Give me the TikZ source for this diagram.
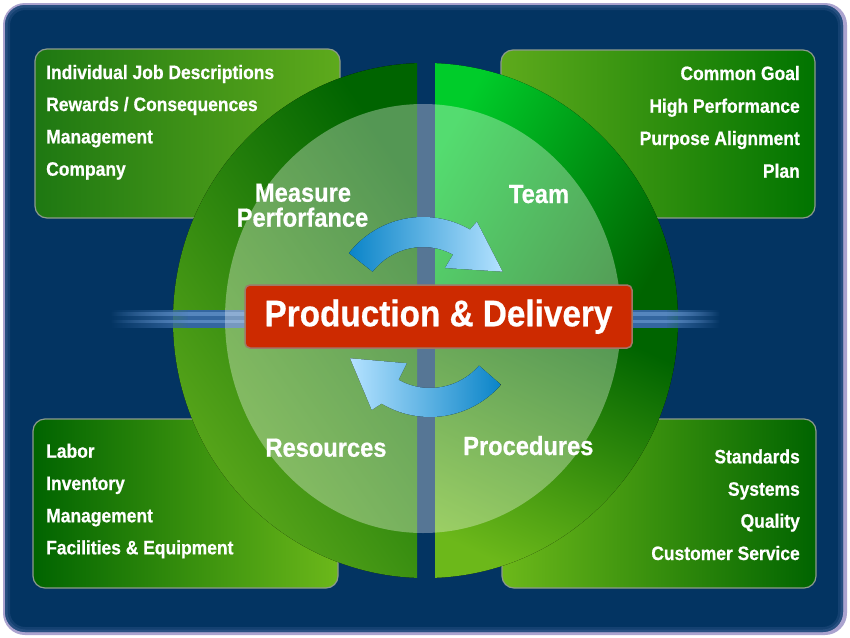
\documentclass[tikz,border=0pt]{standalone}
\usepackage{fontspec}
\setmainfont{Liberation Sans}
\newfontfamily\narrowfont{Liberation Sans}[FakeStretch=0.9, BoldFeatures={FakeBold=0.6}]
\usetikzlibrary{fadings}
\definecolor{navy}{HTML}{033462}
\definecolor{rim}{HTML}{ABA3CF}
\definecolor{glow}{HTML}{4A6A9E}
\definecolor{gdark}{HTML}{006400}
\definecolor{gmid}{HTML}{1E7812}
\definecolor{glight}{HTML}{5EAA1C}
\definecolor{gyellow}{HTML}{6CB81A}
\definecolor{gbright}{HTML}{00CC2A}
\definecolor{boxline}{HTML}{8C9A8C}
\definecolor{redfill}{HTML}{CD2A00}
\definecolor{redline}{HTML}{A07868}
\definecolor{arrdark}{HTML}{0A84C8}
\definecolor{arrmid}{HTML}{2EB4F4}
\definecolor{arrlight}{HTML}{B4E2FF}
\definecolor{barblue}{HTML}{3466A0}
\definecolor{barlight}{HTML}{5686BE}
\begin{document}
\begin{tikzpicture}[x=1pt,y=-1pt,
  panel/.style={draw=boxline, line width=1.2pt, rounded corners=12pt, inner sep=0pt},
  itemtxt/.style={text=white, inner sep=0pt, font=\narrowfont\bfseries\fontsize{19.4}{20}\selectfont},
  quadtxt/.style={text=white, inner sep=0pt, anchor=base, font=\narrowfont\bfseries\fontsize{26.3}{26}\selectfont},
  corebox/.style={draw=redline, line width=1.5pt, fill=redfill, rounded corners=5pt, inner sep=0pt,
     text=white, text height=27pt, text depth=7.5pt, font=\narrowfont\bfseries\fontsize{37}{40}\selectfont},
  cyclearrow/.style={draw=none}
]
\useasboundingbox (0,0) rectangle (850,637);
\fill[white] (0,0) rectangle (850,637);
% frame
\fill[rim, rounded corners=22pt] (3,3) rectangle (847,635);
\begin{scope}
  \clip[rounded corners=20pt] (5,5) rectangle (843,632);
  \fill[navy] (0,0) rectangle (850,637);
  \draw[glow, line width=10pt, opacity=0.25, rounded corners=20pt] (5,5) rectangle (843,632);
  \draw[glow, line width=5pt, opacity=0.35, rounded corners=20pt] (5,5) rectangle (843,632);
\end{scope}

% corner panels
\node[panel, minimum width=305pt, minimum height=169pt,
      left color=gmid, middle color=gdark, right color=glight] (tlbox) at (187.5,133.5) {};
\node[panel, minimum width=314pt, minimum height=168pt,
      left color=glight, middle color=gdark, right color=gdark!90!green] (trbox) at (658,134) {};
\node[panel, minimum width=305pt, minimum height=169pt,
      left color=gdark, middle color=gdark!85!glight, right color=gyellow] (blbox) at (185.5,503.5) {};
\node[panel, minimum width=314pt, minimum height=169pt,
      left color=gyellow, middle color=gdark, right color=gdark] (brbox) at (659,503.5) {};

% big disc halves
\begin{scope}
  \clip (425.5,320.5) ellipse [x radius=252.5, y radius=257.5];
  \fill[bottom color=glight, middle color=gdark!65!glight, top color=gdark, shading angle=-55] (172,62) rectangle (417,579);
  \fill[top color=gbright, bottom color=gdark, shading angle=60] (435,62) rectangle (679,321);
  \fill[top color=gdark, middle color=gdark, bottom color=gyellow, shading angle=-25] (435,320) rectangle (679,579);
\end{scope}

% horizontal bar
\fill[barblue, path fading=west] (110,310) rectangle (190,328);
\fill[barlight, path fading=west] (110,312) rectangle (190,315.5);
\fill[barlight, path fading=west] (110,320) rectangle (190,323);
\fill[barblue] (188,310) rectangle (250,328);
\fill[barlight] (188,312) rectangle (250,315.5);
\fill[barlight] (188,320) rectangle (250,323);
\fill[barblue, path fading=east] (665,310) rectangle (720,328);
\fill[barlight, path fading=east] (665,312) rectangle (720,315.5);
\fill[barlight, path fading=east] (665,320) rectangle (720,323);
\fill[barblue] (625,310) rectangle (667,328);
\fill[barlight] (625,312) rectangle (667,315.5);
\fill[barlight] (625,320) rectangle (667,323);

% translucent inner disc
\fill[white, opacity=0.33] (423,318.5) ellipse [x radius=198, y radius=214.5];

% cycle arrows
\begin{scope}[shift={(423,311)}]
  \fill[cyclearrow, left color=arrdark, middle color=arrmid, right color=arrlight]
    (-142:94) arc[start angle=-142, end angle=-60, radius=94]
    -- (-58.9:104.3) -- (-26.3:88.8) -- (-62.9:48.3) -- (-62:64)
    arc[start angle=-62, end angle=-142, radius=64] -- cycle;
\end{scope}
\begin{scope}[shift={(430,323)}]
  \fill[cyclearrow, left color=arrlight, middle color=arrmid, right color=arrdark]
    (41:94) arc[start angle=41, end angle=121, radius=94]
    -- (123.8:104.7) -- (156.2:87.4) -- (120:46.5) -- (119:65)
    arc[start angle=119, end angle=41, radius=65] -- cycle;
\end{scope}

% centre box
\node[corebox, minimum width=387pt, minimum height=63pt] (core) at (438.5,316.5) {Production \& Delivery};

% quadrant labels
\node[quadtxt] (measure) at (303,201.7) {Measure};
\node[quadtxt] (perf) at (302.5,226.7) {Perforfance};
\node[quadtxt] (team) at (539,203) {Team};
\node[quadtxt] (resources) at (326,456.7) {Resources};
\node[quadtxt] (procedures) at (528.3,455) {Procedures};

% panel items
\node[itemtxt, anchor=base west] (tl1) at (46,79) {Individual Job Descriptions};
\node[itemtxt, anchor=base west] (tl2) at (46,111) {Rewards / Consequences};
\node[itemtxt, anchor=base west] (tl3) at (46,143.3) {Management};
\node[itemtxt, anchor=base west] (tl4) at (46,175.7) {Company};

\node[itemtxt, anchor=base east] (tr1) at (800,80) {Common Goal};
\node[itemtxt, anchor=base east] (tr2) at (800,112.7) {High Performance};
\node[itemtxt, anchor=base east] (tr3) at (800,145) {Purpose Alignment};
\node[itemtxt, anchor=base east] (tr4) at (800,177.7) {Plan};

\node[itemtxt, anchor=base west] (bl1) at (46,457.7) {Labor};
\node[itemtxt, anchor=base west] (bl2) at (46,490) {Inventory};
\node[itemtxt, anchor=base west] (bl3) at (46,522.3) {Management};
\node[itemtxt, anchor=base west] (bl4) at (46,554.3) {Facilities \& Equipment};

\node[itemtxt, anchor=base east] (br1) at (800,463.3) {Standards};
\node[itemtxt, anchor=base east] (br2) at (800,495.7) {Systems};
\node[itemtxt, anchor=base east] (br3) at (800,527.7) {Quality};
\node[itemtxt, anchor=base east] (br4) at (800,560) {Customer Service};
\end{tikzpicture}
\end{document}
